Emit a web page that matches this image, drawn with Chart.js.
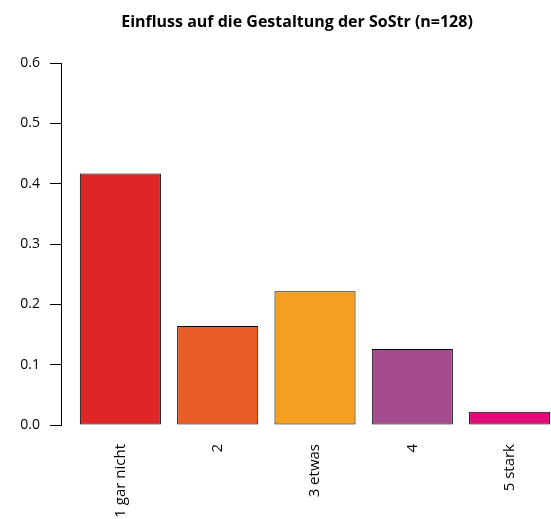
<!DOCTYPE html>
<html><head><meta charset="utf-8">
<script src="https://cdn.jsdelivr.net/npm/chart.js@4/dist/chart.umd.min.js"></script>
<style>html,body{margin:0;padding:0;background:#fff;overflow:hidden;width:551px;height:519px}canvas{display:block}</style>
</head><body>
<canvas id="c" width="594" height="519"></canvas>
<script>
const chartTitle = 'Einfluss auf die Gestaltung der SoStr (n=128)';
const categories = ['1 gar nicht', '2', '3 etwas', '4', '5 stark'];
const shares = [0.417, 0.164, 0.222, 0.126, 0.022];
const barColours = ['#E02527', '#E85E26', '#F3A021', '#A64B8E', '#E30B78'];
const yTickValues = [0, 0.1, 0.2, 0.3, 0.4, 0.5, 0.6];

const FONT = "'Open Sans', sans-serif";
// R barplot geometry: bar width 1, spacing 0.2 -> centres at 0.7 + 1.2*i
const slot = 1.2, firstCentre = 0.7;
const centres = categories.map((_, i) => firstCentre + slot * i);

// centre the title as in the R device
const titleShift = {
  id: 'titleShift',
  afterLayout(chart) {
    const t = chart.titleBlock;
    if (t) { t.left = 25; t.right = chart.chartArea.right; }
  }
};

new Chart(document.getElementById('c'), {
  type: 'bar',
  data: {
    datasets: [{
      data: shares.map((v, i) => ({ x: centres[i], y: v })),
      backgroundColor: barColours,
      borderColor: '#000',
      borderWidth: 1,
      borderSkipped: false,
      barPercentage: 1 / slot,
      categoryPercentage: 1
    }]
  },
  plugins: [titleShift],
  options: {
    responsive: false,
    animation: false,
    layout: { padding: { left: 0, right: 25, top: 0, bottom: 0 } },
    plugins: {
      legend: { display: false },
      tooltip: { enabled: false },
      title: {
        display: true,
        text: chartTitle,
        color: '#000',
        font: { family: FONT, size: 16, weight: 'bold' },
        padding: { top: 13, bottom: 31 }
      }
    },
    scales: {
      x: {
        type: 'linear',
        offset: false,
        min: -0.032,
        max: 6.232,
        grid: { display: false, drawTicks: false },
        border: { display: false },
        afterBuildTicks: s => { s.ticks = centres.map(v => ({ value: v })); },
        afterFit: s => { s.height = 94; },
        ticks: {
          autoSkip: false,
          minRotation: 90,
          maxRotation: 90,
          padding: 19,
          color: '#000',
          font: { family: FONT, size: 15 },
          callback: (v, i) => categories[i]
        }
      },
      y: {
        min: 0,
        max: 0.6,
        afterBuildTicks: s => { s.ticks = yTickValues.map(v => ({ value: v })); },
        afterFit: s => { s.width = 61; },
        grid: { drawOnChartArea: false, drawTicks: true, tickLength: 11, color: '#000', tickColor: '#000' },
        border: { display: true, color: '#000', width: 1 },
        ticks: {
          padding: 10,
          color: '#000',
          font: { family: FONT, size: 14 },
          callback: v => v.toFixed(1)
        }
      }
    }
  }
});
</script>
</body></html>
